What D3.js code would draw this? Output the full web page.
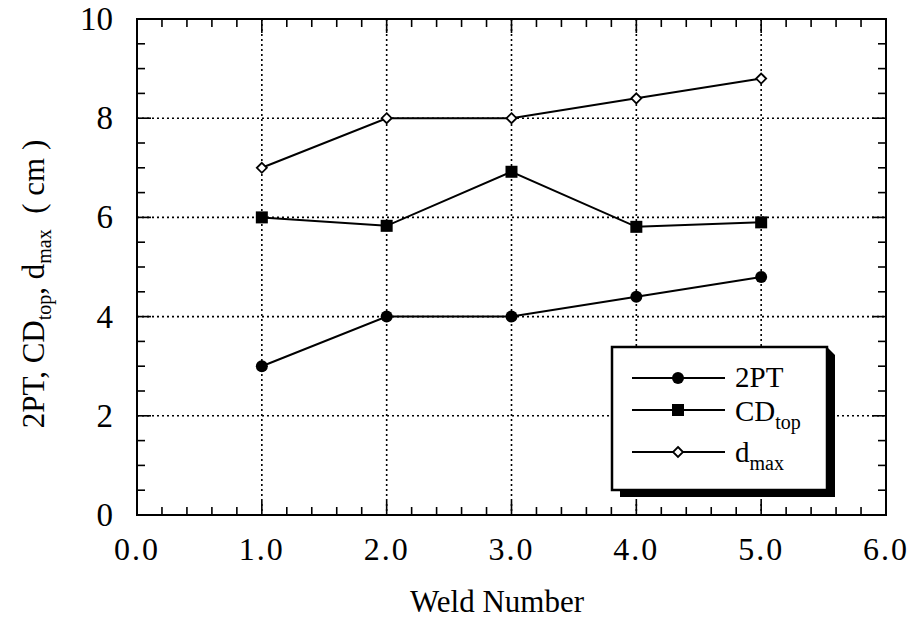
<!DOCTYPE html>
<html>
<head>
<meta charset="utf-8">
<script src="https://cdn.jsdelivr.net/npm/d3@7"></script>
<style>
  body { margin: 0; background: #fff; }
  svg { font-family: "Liberation Serif", "Times New Roman", serif; }
</style>
</head>
<body>
<svg id="chart" width="915" height="630"></svg>
<script>
const welds = [1, 2, 3, 4, 5];
const twoPT = [3.0, 4.0, 4.0, 4.4, 4.8];
const cdTop = [6.0, 5.83, 6.92, 5.81, 5.9];
const dMax = [7.0, 8.0, 8.0, 8.4, 8.8];
const xTicks = [0, 1, 2, 3, 4, 5, 6];
const yTicks = [0, 2, 4, 6, 8, 10];

const svg = d3.select("#chart");
const pLeft = 137, pRight = 886, pTop = 19, pBottom = 515;

const x = d3.scaleLinear().domain([0, 6]).range([pLeft, pRight]);
const y = d3.scaleLinear().domain([0, 10]).range([pBottom, pTop]);

// dotted grid
const grid = svg.append("g")
  .attr("stroke", "#000")
  .attr("stroke-width", 1.6)
  .attr("stroke-dasharray", "2,3");
grid.selectAll(".gx").data(xTicks.slice(1, -1)).enter().append("line")
  .attr("x1", d => x(d)).attr("x2", d => x(d))
  .attr("y1", pTop).attr("y2", pBottom);
grid.selectAll(".gy").data(yTicks.slice(1, -1)).enter().append("line")
  .attr("x1", pLeft).attr("x2", pRight)
  .attr("y1", d => y(d)).attr("y2", d => y(d));

// ticks inward on all sides
const xMinor = d3.range(0, 6.001, 0.2);
const yMinor = d3.range(0, 10.001, 0.5);
const ticks = svg.append("g").attr("stroke", "#000").attr("stroke-width", 1.6);
xMinor.forEach(v => {
  const major = Math.abs(v - Math.round(v)) < 1e-6;
  const len = major ? 14 : 8;
  ticks.append("line").attr("x1", x(v)).attr("x2", x(v)).attr("y1", pBottom).attr("y2", pBottom - len);
  ticks.append("line").attr("x1", x(v)).attr("x2", x(v)).attr("y1", pTop).attr("y2", pTop + len);
});
yMinor.forEach(v => {
  const major = Math.abs(v / 2 - Math.round(v / 2)) < 1e-6;
  const len = major ? 14 : 8;
  ticks.append("line").attr("x1", pLeft).attr("x2", pLeft + len).attr("y1", y(v)).attr("y2", y(v));
  ticks.append("line").attr("x1", pRight).attr("x2", pRight - len).attr("y1", y(v)).attr("y2", y(v));
});

svg.append("rect")
  .attr("x", pLeft).attr("y", pTop)
  .attr("width", pRight - pLeft).attr("height", pBottom - pTop)
  .attr("fill", "none").attr("stroke", "#000").attr("stroke-width", 2);

// tick labels
svg.selectAll(".xl").data(xTicks).enter().append("text")
  .attr("x", d => x(d)).attr("y", pBottom + 45)
  .attr("text-anchor", "middle").attr("font-size", 32)
  .attr("letter-spacing", 2)
  .text(d => d.toFixed(1));
svg.selectAll(".yl").data(yTicks).enter().append("text")
  .attr("x", pLeft - 24).attr("y", d => y(d) + 11)
  .attr("text-anchor", "end").attr("font-size", 33)
  .text(d => d);

// axis titles
svg.append("text")
  .attr("x", 497).attr("y", 612)
  .attr("text-anchor", "middle").attr("font-size", 31)
  .text("Weld Number");

const yt = svg.append("text")
  .attr("transform", "translate(44,284) rotate(-90)")
  .attr("text-anchor", "middle").attr("font-size", 31);
yt.append("tspan").text("2PT, CD");
yt.append("tspan").attr("font-size", 20).attr("dy", 7).text("top");
yt.append("tspan").attr("dy", -7).text(", d");
yt.append("tspan").attr("font-size", 20).attr("dy", 7).text("max");
yt.append("tspan").attr("dy", -7).text("\u00a0\u00a0(\u00a0cm\u00a0)");

// series
const line = d3.line().x((d, i) => x(welds[i])).y(d => y(d));
const series = [
  { name: "2PT", values: twoPT, shape: "circle" },
  { name: "CD", sub: "top", values: cdTop, shape: "square" },
  { name: "d", sub: "max", values: dMax, shape: "diamond" }
];

function marker(g, shape, cx, cy) {
  if (shape === "circle") {
    g.append("circle").attr("cx", cx).attr("cy", cy).attr("r", 6).attr("fill", "#000");
  } else if (shape === "square") {
    g.append("rect").attr("x", cx - 6).attr("y", cy - 6).attr("width", 12).attr("height", 12).attr("fill", "#000");
  } else {
    g.append("path")
      .attr("d", `M${cx},${cy - 5}L${cx + 5},${cy}L${cx},${cy + 5}L${cx - 5},${cy}Z`)
      .attr("fill", "#fff").attr("stroke", "#000").attr("stroke-width", 1.8);
  }
}

series.forEach(s => {
  svg.append("path").attr("d", line(s.values))
    .attr("fill", "none").attr("stroke", "#000").attr("stroke-width", 2);
  const g = svg.append("g");
  s.values.forEach((v, i) => marker(g, s.shape, x(welds[i]), y(v)));
});

// legend
const lg = svg.append("g");
lg.append("path")
  .attr("d", "M620,490 L620,497 L835,497 L835,355 L827,347 L827,490 Z")
  .attr("fill", "#000");
lg.append("rect").attr("x", 612).attr("y", 347).attr("width", 215).attr("height", 143)
  .attr("fill", "#fff").attr("stroke", "#000").attr("stroke-width", 2.5);
const rows = [378, 410, 452];
const textRows = [387, 421, 462];
series.forEach((s, i) => {
  const ry = rows[i];
  lg.append("line").attr("x1", 632).attr("x2", 725).attr("y1", ry).attr("y2", ry)
    .attr("stroke", "#000").attr("stroke-width", 1.8);
  marker(lg, s.shape, 678, ry);
  const t = lg.append("text").attr("x", 735).attr("y", textRows[i]).attr("font-size", 29);
  t.append("tspan").text(s.name);
  if (s.sub) t.append("tspan").attr("font-size", 20).attr("dy", 8).text(s.sub);
});
</script>
</body>
</html>
